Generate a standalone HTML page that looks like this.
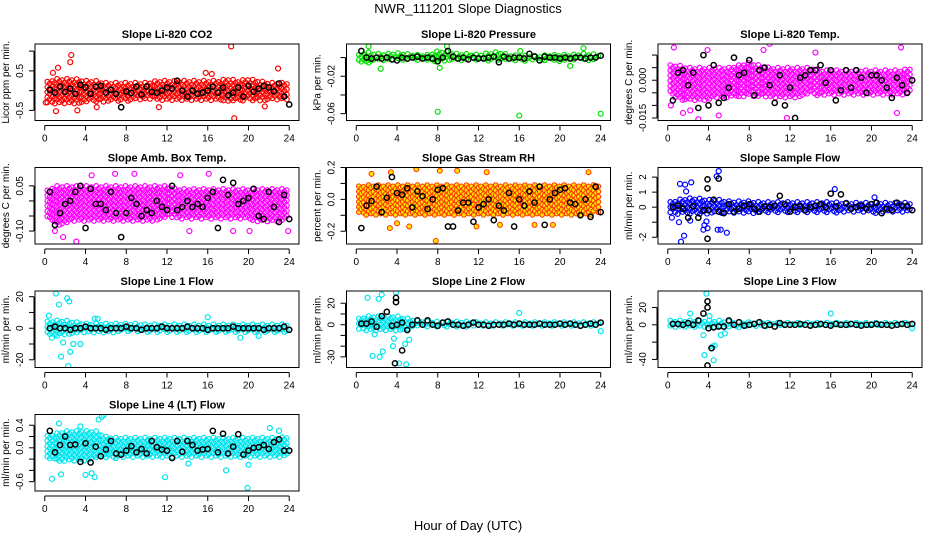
<!DOCTYPE html>
<html><head><meta charset="utf-8"><style>
html,body{margin:0;padding:0;background:#fff;}
svg{display:block;font-family:"Liberation Sans",sans-serif;}
</style></head><body>
<svg id="chart" width="936" height="540" viewBox="0 0 936 540" xmlns="http://www.w3.org/2000/svg">
<text x="468" y="13" text-anchor="middle" font-size="13">NWR_111201  Slope Diagnostics</text>
<text x="468" y="530" text-anchor="middle" font-size="13">Hour of Day (UTC)</text>
</svg>
<script>
// ---- shared data ----
const hours = [0,1,2,3,4,5,6,7,8,9,10,11,12,13,14,15,16,17,18,19,20,21,22,23,24];
const blackHours = [0.5,1,1.5,2,2.5,3,3.5,4,4.5,5,5.5,6,6.5,7,7.5,8,8.5,9,9.5,10,10.5,11,11.5,12,12.5,13,13.5,14,14.5,15,15.5,16,16.5,17,17.5,18,18.5,19,19.5,20,20.5,21,21.5,22,22.5,23,23.5,24];
const xTicks = [0,4,8,12,16,20,24];

// ---- panel data ----
const co2Lo = [-0.3,-0.35,-0.35,-0.35,-0.3,-0.3,-0.3,-0.28,-0.28,-0.25,-0.25,-0.25,-0.25,-0.25,-0.25,-0.25,-0.25,-0.28,-0.28,-0.3,-0.25,-0.25,-0.25,-0.25,-0.25];
const co2Hi = [0.2,0.3,0.3,0.3,0.25,0.25,0.2,0.2,0.2,0.2,0.2,0.25,0.25,0.25,0.25,0.25,0.25,0.25,0.3,0.25,0.3,0.25,0.2,0.2,0.2];
const co2Black = [0.02,-0.05,0.1,-0.03,0.05,-0.08,0.15,0.08,-0.08,0.1,0.12,-0.05,0.02,-0.08,-0.42,-0.02,-0.06,0.1,-0.1,0.1,-0.03,-0.05,0,0.08,0.05,0.25,0,-0.15,0,-0.08,-0.05,0,0.1,-0.05,0.08,-0.12,-0.05,0.08,-0.15,0.12,-0.03,0.05,0.12,0.08,-0.02,0.18,-0.15,-0.35];
const co2OutX = [2.6,2.5,1.3,0.8,18.3,18.6,22.9,3.2,1.1,5.1,21.6,11.2,0.1,15.8,16.4];
const co2OutY = [0.9,0.72,0.58,0.45,1.12,-0.7,0.56,-0.5,-0.52,-0.42,-0.4,-0.42,-0.3,0.45,0.42];

const prLo = [-0.005,-0.006,-0.004,-0.003,-0.003,-0.003,-0.003,-0.003,-0.005,-0.005,-0.003,-0.003,-0.003,-0.004,-0.004,-0.003,-0.005,-0.003,-0.003,-0.004,-0.004,-0.003,-0.003,-0.003,-0.003];
const prHi = [0.002,0.006,0.004,0.004,0.005,0.004,0.003,0.003,0.007,0.006,0.004,0.004,0.003,0.005,0.006,0.003,0.002,0.002,0.002,0.003,0.003,0.003,0.004,0.004,0.003];
const prBlack = [0.007,0,-0.001,0,-0.001,0,-0.002,-0.003,0,-0.001,0,0.001,-0.001,0,-0.001,-0.004,0,0.007,0.001,-0.001,0,-0.002,0,-0.001,-0.001,0,0.001,-0.005,0.001,-0.001,0,0,-0.001,0.004,0.001,-0.003,0.001,0,0,-0.001,0,-0.001,0,0,-0.001,0,0,0.002];
const prOutX = [2.4,8,16,24,8.2,8.9,22.3,1.2,21,16.1];
const prOutY = [-0.012,-0.058,-0.062,-0.06,-0.011,0.012,0.01,0.012,-0.009,0.007];

const tmLo = [-0.005,-0.008,-0.008,-0.008,-0.008,-0.007,-0.007,-0.007,-0.006,-0.007,-0.007,-0.007,-0.007,-0.007,-0.006,-0.006,-0.006,-0.006,-0.006,-0.006,-0.006,-0.006,-0.006,-0.006,-0.006];
const tmHi = [0.006,0.006,0.005,0.005,0.005,0.005,0.005,0.006,0.007,0.006,0.005,0.005,0.005,0.005,0.005,0.004,0.004,0.004,0.004,0.004,0.004,0.004,0.004,0.004,0.005];
const tmBlack = [-0.008,0.003,0.004,-0.002,0.003,-0.011,0.01,-0.01,0.006,-0.009,-0.007,-0.003,0.009,0.002,0.003,0.008,-0.006,0.004,0.005,-0.002,-0.009,0.002,-0.01,-0.003,-0.015,0.001,0.002,0.004,0.004,0.006,-0.001,0.004,-0.008,-0.004,0.004,-0.003,0.004,0.001,-0.005,0.002,0.002,0,-0.003,-0.007,0.001,-0.002,-0.005,0];
const tmOutX = [0.6,3,10,22.9,1.5,14.5,0.3,2.2,11.7,22.5,5,3.9,9.4];
const tmOutY = [0.013,-0.0155,0.0145,0.013,-0.013,0.011,-0.01,-0.012,-0.015,-0.013,-0.014,0.012,0.012];

const ambLo = [-0.06,-0.08,-0.08,-0.07,-0.07,-0.07,-0.07,-0.07,-0.07,-0.07,-0.07,-0.07,-0.06,-0.06,-0.06,-0.06,-0.06,-0.06,-0.06,-0.06,-0.06,-0.07,-0.07,-0.07,-0.06];
const ambHi = [0.03,0.05,0.05,0.05,0.05,0.05,0.05,0.05,0.05,0.05,0.05,0.05,0.05,0.04,0.04,0.04,0.04,0.04,0.04,0.04,0.04,0.04,0.04,0.04,0.04];
const ambBlack = [0.03,-0.08,-0.04,-0.01,0,0.03,0.05,-0.09,0.04,-0.01,-0.01,-0.03,0.03,-0.04,-0.12,-0.04,0.01,-0.01,-0.05,-0.03,-0.04,0,-0.02,-0.03,0.05,-0.03,-0.02,0,-0.02,-0.01,-0.02,0.01,0.03,-0.09,0.07,0.02,0.06,-0.01,0,0.01,0.04,-0.05,-0.06,0.03,-0.02,-0.07,0.02,-0.06];
const ambOutX = [1,1.8,3.1,6.9,8.8,4.6,16.1,22.9,23.9,18.5,13.3,20.1,14.2];
const ambOutY = [-0.1,-0.12,-0.135,0.09,0.09,0.085,0.09,0.12,-0.1,-0.1,0.085,-0.1,-0.1];

const rhLo = [-0.08,-0.1,-0.1,-0.1,-0.1,-0.1,-0.1,-0.1,-0.1,-0.1,-0.1,-0.1,-0.1,-0.1,-0.1,-0.1,-0.1,-0.1,-0.1,-0.1,-0.1,-0.1,-0.1,-0.1,-0.08];
const rhHi = [0.08,0.09,0.09,0.09,0.09,0.09,0.09,0.09,0.09,0.09,0.09,0.09,0.09,0.09,0.09,0.09,0.09,0.09,0.09,0.09,0.09,0.09,0.09,0.09,0.09];
const rhBlack = [-0.18,-0.04,-0.01,0.08,-0.08,0.01,0.14,0.04,0.03,0.07,-0.05,0.05,0.02,-0.06,0,0.06,0.07,-0.17,-0.17,-0.07,-0.02,-0.02,-0.14,-0.05,-0.03,0,-0.13,-0.04,-0.07,0.04,-0.17,0,-0.04,0.05,-0.02,0.08,-0.16,0,0.04,0.06,0.07,-0.02,-0.03,-0.1,0,-0.11,0.08,-0.08];
const rhOutX = [1.5,3.4,5.9,7.8,8.2,9.9,12.8,3.3,5.2,11.8,14.1,17.5,19.3,22.8,4];
const rhOutY = [0.16,0.17,0.19,-0.26,0.18,0.18,0.17,-0.18,-0.17,-0.17,-0.16,-0.16,-0.16,0.17,-0.15];

const sfLo = [-0.4,-0.5,-0.5,-0.5,-0.5,-0.4,-0.4,-0.4,-0.4,-0.4,-0.4,-0.4,-0.4,-0.4,-0.4,-0.4,-0.4,-0.4,-0.35,-0.35,-0.4,-0.4,-0.35,-0.35,-0.3];
const sfHi = [0.3,0.5,0.6,0.6,0.5,0.5,0.4,0.4,0.4,0.35,0.35,0.35,0.35,0.35,0.35,0.35,0.35,0.3,0.3,0.3,0.3,0.3,0.3,0.3,0.3];
const sfBlack = [0,0.1,-0.1,-0.7,0.05,-0.7,-0.2,-0.2,0.5,-0.3,-0.4,0.2,-0.3,-0.1,0.1,0.2,-0.1,-0.3,0.05,0,0.1,0.75,0.2,-0.3,0,0.05,-0.2,0,0.1,0.2,0,0.9,0.05,0.85,0.25,-0.1,0,0.1,-0.1,0.2,0.3,-0.4,-0.1,-0.2,0.3,0.1,0.05,-0.2];
const sfSpikeX = [3.9,3.9,3.9,5];
const sfSpikeY = [1.85,1.25,-2.1,1.9];
const sfOutX = [1.2,1.3,1.6,1.7,1.8,2.3,1.1,3.5,3.6,3.8,3.9,4.8,5,5.2,5.8,16.4,20.3,4.9,0.4,2.2];
const sfOutY = [1.55,-2.3,-1.9,1.5,1.05,1.65,-1,-1.5,-1.2,-0.95,-1.4,2.05,2.4,-1.5,-1.7,1.2,0.65,-1.5,-0.7,-0.9];

const l1Lo = [-3,-5,-5,-4,-3,-3,-3,-3,-2.5,-2.5,-2.5,-2.5,-2.5,-2.5,-2.5,-2.5,-2.5,-2.5,-2.5,-3,-3,-3,-3,-3,-3];
const l1Hi = [4,5,5,4,3,3,3,3,3,3,2.5,2.5,2.5,2.5,2.5,2.5,2.5,2.5,2.5,2.5,2.5,2.5,2.5,2.5,2.5];
const l1Black = [0,1,0,0,-1,0,0,1,0,0,0,-1,0,0,0,1,0,0,-1,0,0,0,1,0,0,0,0,1,0,0,0,-1,0,0,0,0,1,0,0,0,0,0,-1,0,0,0,1,-1];
const l1OutX = [1.1,2.2,2.4,1.4,1.6,2.3,2.5,3.5,1.8,2.8,0.4,16,4.9,0.7,19.2,21,5.2];
const l1OutY = [22,19,17,15,-18,-24,-15,-10,-9,-10,8,7,6,-6,-6,-5,6];

const l2Lo = [-4,-6,-6,-6,-6,-5,-3,-2,-2,-2,-2,-2,-2,-2,-2,-2,-2,-2,-2,-2,-2,-2,-2,-2,-2];
const l2Hi = [5,8,8,8,8,6,4,3,3,3,3,3,2.5,2.5,2.5,2.5,2.5,2.5,2.5,2.5,2.5,2.5,2.5,2.5,2.5];
const l2Black = [1,1,3,-2,8,12,-1,0,2,-5,0,4,0,4,0,-1,2,3,0,0,-1,0,2,0,0,-1,0,0,0,1,0,1,0,0,0,1,0,0,0,1,0,1,0,-1,0,1,0,2];
const l2SpikeX = [3.9,3.9,3.8,4.5];
const l2SpikeY = [25,21,-36,-24];
const l2OutX = [1.1,2.2,2.5,3.9,1.6,2.3,2.6,3.6,3.7,4.2,4.8,4.9,1.8,16,24,5.2];
const l2OutY = [25,24,28,30,-29,-30,-25,-20,-13,-36,-18,-37,-9,11,-6,-14];

const l3Lo = [-3,-4,-4,-4,-4,-4,-3,-3,-2,-2,-2,-2,-2,-2,-2,-2,-2,-2,-2,-2,-2,-2,-2,-2,-2];
const l3Hi = [5,5,5,5,5,5,4,3,3,3,2.5,2.5,2.5,2.5,2.5,2.5,2.5,2.5,2.5,2.5,2.5,2.5,2.5,2.5,2.5];
const l3Black = [1,1,0,2,0,5,13,-4,-3,-2,-2,5,0,3,-1,0,1,3,-1,0,-2,2,0,0,0,1,0,-1,0,1,0,-1,1,0,0,1,0,-1,0,0,1,0,0,-1,0,1,0,1];
const l3SpikeX = [3.9,3.9,3.9,4.3];
const l3SpikeY = [20,27,-47,-27];
const l3OutX = [3.8,3.6,3.5,4.4,4.5,4.6,2.2,4.1,16,24,5.2,5.6];
const l3OutY = [36,-35,-12,-25,-41,-24,13,10,13,-4,-12,-10];

const l4Lo = [-0.15,-0.25,-0.25,-0.25,-0.25,-0.2,-0.2,-0.2,-0.18,-0.18,-0.18,-0.18,-0.18,-0.18,-0.18,-0.18,-0.18,-0.18,-0.18,-0.18,-0.18,-0.18,-0.18,-0.18,-0.15];
const l4Hi = [0.2,0.25,0.3,0.3,0.3,0.3,0.2,0.18,0.18,0.18,0.18,0.18,0.18,0.18,0.18,0.18,0.18,0.18,0.18,0.18,0.18,0.18,0.18,0.18,0.2];
const l4Black = [0.3,-0.08,0.05,0.2,0.05,0.06,-0.25,0.08,-0.26,0.02,-0.15,-0.03,0.12,-0.1,-0.12,-0.05,0.03,-0.08,-0.02,-0.1,0.12,0.01,-0.03,-0.05,-0.18,0.12,-0.07,0.12,0.05,-0.05,-0.03,-0.02,0.3,-0.08,0.25,-0.1,0.02,0.24,-0.12,-0.05,0,0.01,0.05,-0.02,0.1,0.15,-0.05,-0.05];
const l4OutX = [0.7,1.6,4,4.6,4.9,5.3,5.6,5.8,1.4,3.5,11.8,17.8,19.9,22.1,23,20,14.1];
const l4OutY = [-0.55,-0.47,-0.48,-0.45,-0.52,0.5,0.55,0.58,0.43,0.38,-0.52,-0.4,-0.71,0.35,0.3,-0.3,-0.28];

// ---- panel configuration ----
const panels = [
 {name:'co2',title:'Slope Li-820 CO2',ylab:'Licor ppm per min.',col:0,row:0,color:'#ff0000',ymin:-0.756,ymax:1.18,ticks:[-0.5,0,0.5,1],labels:['-0.5',null,'0.5',null],lo:co2Lo,hi:co2Hi,bk:co2Black,ox:co2OutX,oy:co2OutY},
 {name:'pressure',title:'Slope Li-820 Pressure',ylab:'kPa per min.',col:1,row:0,color:'#00e000',ymin:-0.0673,ymax:0.0145,ticks:[0,-0.02,-0.04,-0.06],labels:[null,'-0.02',null,'-0.06'],lo:prLo,hi:prHi,bk:prBlack,ox:prOutX,oy:prOutY},
 {name:'licor-temp',title:'Slope Li-820 Temp.',ylab:'degrees C per min.',col:2,row:0,color:'#ff00ff',ymin:-0.016,ymax:0.0144,ticks:[0.01,0.005,0,-0.005,-0.01,-0.015],labels:[null,null,'0.000',null,null,'-0.015'],lo:tmLo,hi:tmHi,bk:tmBlack,ox:tmOutX,oy:tmOutY},
 {name:'amb-box-temp',title:'Slope Amb. Box Temp.',ylab:'degrees C per min.',col:0,row:1,color:'#ff00ff',ymin:-0.143,ymax:0.111,ticks:[0.05,0,-0.05,-0.1],labels:['0.05',null,null,'-0.10'],lo:ambLo,hi:ambHi,bk:ambBlack,ox:ambOutX,oy:ambOutY},
 {name:'gas-stream-rh',title:'Slope Gas Stream RH',ylab:'percent per min.',col:1,row:1,color:'#ff3000',fill:'#ffe000',ymin:-0.28,ymax:0.2,ticks:[0.2,0.1,0,-0.1,-0.2],labels:['0.2',null,'0.0',null,'-0.2'],lo:rhLo,hi:rhHi,bk:rhBlack,ox:rhOutX,oy:rhOutY},
 {name:'sample-flow',title:'Slope Sample Flow',ylab:'ml/min per min.',col:2,row:1,color:'#0000ff',ymin:-2.45,ymax:2.64,ticks:[2,1,0,-1,-2],labels:['2','1','0',null,'-2'],lo:sfLo,hi:sfHi,bk:sfBlack,ox:sfOutX,oy:sfOutY,sx:sfSpikeX,sy:sfSpikeY},
 {name:'line1-flow',title:'Slope Line 1 Flow',ylab:'ml/min per min.',col:0,row:2,color:'#00e5ee',ymin:-24.9,ymax:23.6,ticks:[20,10,0,-10,-20],labels:['20',null,'0',null,'-20'],lo:l1Lo,hi:l1Hi,bk:l1Black,ox:l1OutX,oy:l1OutY},
 {name:'line2-flow',title:'Slope Line 2 Flow',ylab:'ml/min per min.',col:1,row:2,color:'#00e5ee',ymin:-39.9,ymax:31.4,ticks:[20,10,0,-10,-20,-30],labels:['20',null,'0',null,null,'-30'],lo:l2Lo,hi:l2Hi,bk:l2Black,ox:l2OutX,oy:l2OutY,sx:l2SpikeX,sy:l2SpikeY},
 {name:'line3-flow',title:'Slope Line 3 Flow',ylab:'ml/min per min.',col:2,row:2,color:'#00e5ee',ymin:-49.3,ymax:39,ticks:[20,0,-20,-40],labels:['20','0',null,'-40'],lo:l3Lo,hi:l3Hi,bk:l3Black,ox:l3OutX,oy:l3OutY,sx:l3SpikeX,sy:l3SpikeY},
 {name:'line4-flow',title:'Slope Line 4 (LT) Flow',ylab:'ml/min per min.',col:0,row:3,color:'#00e5ee',ymin:-0.765,ymax:0.59,ticks:[0.4,0.2,0,-0.2,-0.4,-0.6],labels:['0.4',null,'0.0',null,null,'-0.6'],lo:l4Lo,hi:l4Hi,bk:l4Black,ox:l4OutX,oy:l4OutY}
];

const NS='http://www.w3.org/2000/svg';
const svg=document.getElementById('chart');
const colLeft=[35,346.5,658], colW=264;
const rowTop=[44,167.5,291,414.5], rowH=76.5;

function mk(tag,attrs,parent){const e=document.createElementNS(NS,tag);for(const k in attrs)e.setAttribute(k,attrs[k]);parent.appendChild(e);return e;}
function interp(arr,h){const i=Math.min(23,Math.floor(h));const f=h-i;return arr[i]*(1-f)+arr[i+1]*f;}

panels.forEach(p=>{
  const L=colLeft[p.col], T=rowTop[p.row], R=L+colW, B=T+rowH;
  const pad=colW*0.04/1.08;
  const xs=h=>L+pad+(h/24)*(colW-2*pad);
  const ys=v=>B-(v-p.ymin)/(p.ymax-p.ymin)*rowH;
  const g=mk('g',{},svg);
  
  
  const t=mk('text',{x:(L+R)/2,y:T-6,'text-anchor':'middle','font-size':'11','font-weight':'bold'},g);
  t.textContent=p.title;
  
  
  const cid='clip-'+p.name;
  const cp=mk('clipPath',{id:cid},g); mk('rect',{x:L,y:T,width:colW,height:rowH},cp);
  const pts=mk('g',{'clip-path':'url(#'+cid+')'},g);
  
  
  const st={fill:p.fill||'none',stroke:p.color,'stroke-width':p.fill?1.0:1.2};
  // cloud between envelopes (sparser lattice)
  let k=0;
  for(let h=0.25;h<=23.95;h+=0.24){
    const lo=ys(interp(p.lo,h)), hi=ys(interp(p.hi,h));
    const off=[0,2.6,1.3,3.9][k%4];
    for(let y=hi+off;y<=lo;y+=5.2){
      const c=mk('circle',Object.assign({cx:xs(h).toFixed(1),cy:y.toFixed(1),r:2.3},st),pts);
      
      
    }
    k++;
  }
  p.ox.forEach((h,i)=>{
    const c=mk('circle',Object.assign({cx:xs(h),cy:ys(p.oy[i]),r:2.5},st),pts);
    
    
  });
  const bst={fill:'none',stroke:'#000','stroke-width':1.5,r:2.6};
  blackHours.forEach((h,i)=>{
    const c=mk('circle',Object.assign({cx:xs(h),cy:ys(p.bk[i])},bst),pts);
    
    
  });
  if(p.sx) p.sx.forEach((h,i)=>{
    const c=mk('circle',Object.assign({cx:xs(h),cy:ys(p.sy[i])},bst),pts);
    
    
  });
  const box=mk('rect',{x:L,y:T,width:colW,height:rowH,fill:'none',stroke:'#000','stroke-width':1},g);
  
  
  const xa=mk('g',{},g);
  
  
  mk('line',{x1:xs(0),x2:xs(24),y1:B+5,y2:B+5,stroke:'#000'},xa);
  xTicks.forEach(v=>{
    mk('line',{x1:xs(v),x2:xs(v),y1:B+5,y2:B+10,stroke:'#000'},xa);
    const tx=mk('text',{x:xs(v),y:B+21,'text-anchor':'middle','font-size':'10'},xa);
    tx.textContent=v;
  });
  const ya=mk('g',{},g);
  
  
  mk('line',{x1:L-1,x2:L-1,y1:ys(p.ticks[0]),y2:ys(p.ticks[p.ticks.length-1]),stroke:'#000'},ya);
  p.ticks.forEach((v,i)=>{
    const y=ys(v);
    mk('line',{x1:L-6,x2:L-1,y1:y,y2:y,stroke:'#000'},ya);
    if(p.labels[i]!==null){
      const tx=mk('text',{x:L-12,y:y,'text-anchor':'middle','font-size':'10',transform:'rotate(-90 '+(L-12)+' '+y+')'},ya);
      tx.textContent=p.labels[i];
    }
  });
  const yl=mk('text',{x:L-26,y:(T+B)/2,'text-anchor':'middle','font-size':'10',transform:'rotate(-90 '+(L-26)+' '+((T+B)/2)+')'},g);
  yl.textContent=p.ylab;
  
  
});
</script>
</body></html>
